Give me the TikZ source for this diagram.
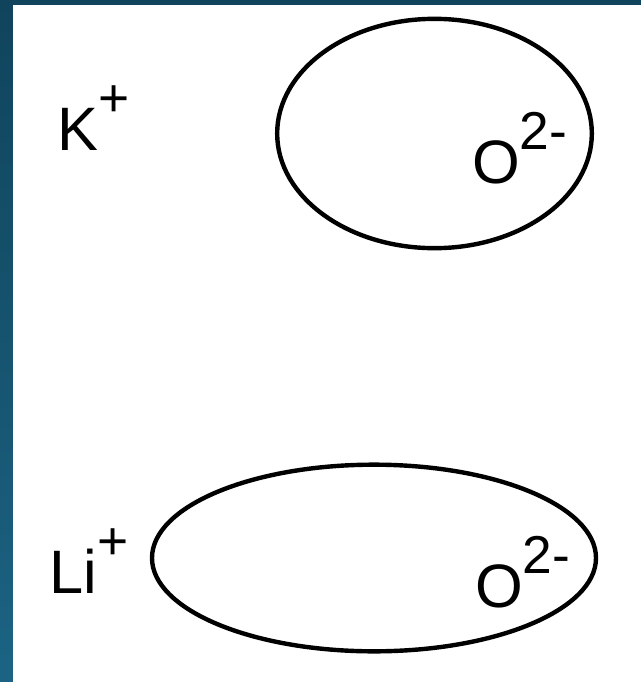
\documentclass[tikz,border=0pt]{standalone}
\usepackage{fontspec}
\setmainfont{Liberation Sans}
\usetikzlibrary{shapes.geometric}
\definecolor{frametop}{HTML}{10445C}
\definecolor{framebot}{HTML}{1C6383}
\newcommand{\ionlabel}[2]{#1\raisebox{25pt}{\fontsize{40}{40}\selectfont #2}}
\tikzset{
  cloud/.style={draw, ellipse, line width=3.3pt, inner sep=0pt},
  ion/.style={anchor=base west, inner sep=0pt, font=\fontsize{46}{46}\selectfont},
}

\begin{document}
\begin{tikzpicture}[x=0.75pt, y=-0.75pt]
  \useasboundingbox (0,0) rectangle (641,682);
  \shade[top color=frametop, bottom color=framebot] (0,0) rectangle (641,682);
  \fill[white] (13,5) rectangle (641,682);
  % potassium oxide
  \node[cloud, minimum width=236pt, minimum height=172pt] (cloudK) at (434.5,133.5) {};
  \node[ion] (K) at (57,150) {\ionlabel{K}{+}};
  \node[ion] (OK) at (472,183) {\ionlabel{O}{2-}};
  % lithium oxide
  \node[cloud, minimum width=333pt, minimum height=140pt] (cloudLi) at (374,558) {};
  \node[ion] (Li) at (49,593) {\ionlabel{Li}{+}};
  \node[ion] (OLi) at (475,607) {\ionlabel{O}{2-}};
\end{tikzpicture}
\end{document}
